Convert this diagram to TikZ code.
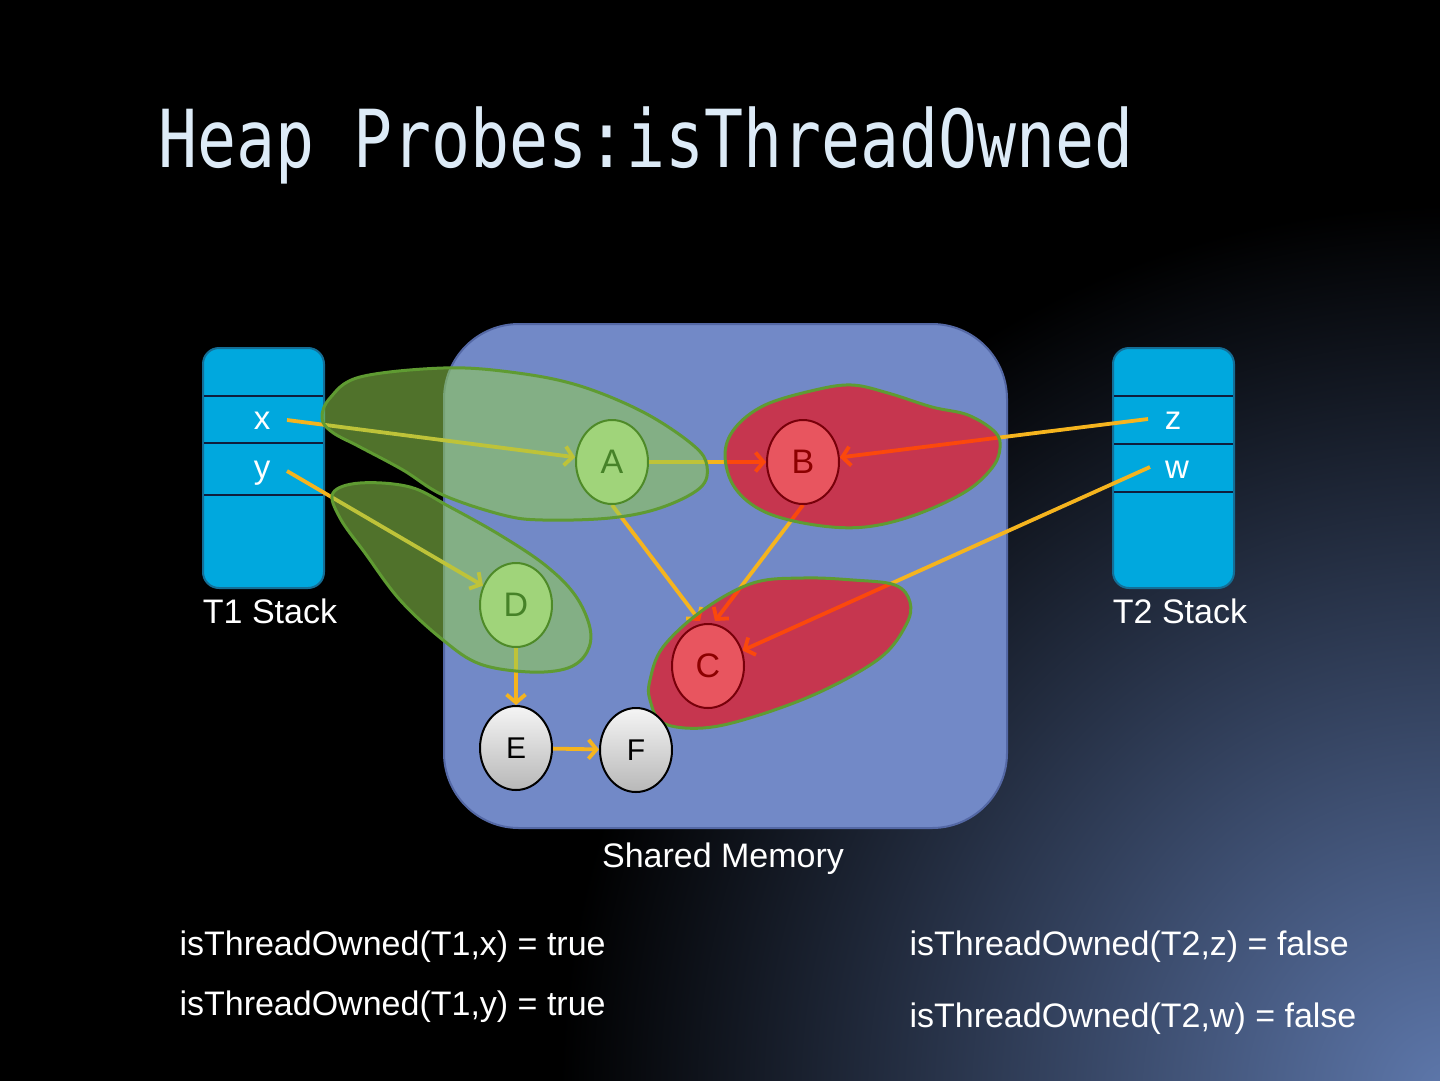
\documentclass[tikz,border=0pt]{standalone}
\usepackage{fontspec}
\setmainfont{Liberation Sans}
\newfontfamily\titlefont{DejaVu Sans Mono}
\usetikzlibrary{arrows.meta,shapes.geometric}
\definecolor{glowA}{RGB}{94,120,172}
\definecolor{titlecol}{RGB}{221,235,247}
\definecolor{memfill}{RGB}{114,137,199}
\definecolor{memdraw}{RGB}{84,104,165}
\definecolor{stackfill}{RGB}{0,168,222}
\definecolor{stackdraw}{RGB}{20,110,150}
\definecolor{cellline}{RGB}{15,30,60}
\definecolor{arrcol}{RGB}{245,180,30}
\definecolor{gblob}{RGB}{146,208,80}
\definecolor{blobline}{RGB}{95,155,50}
\definecolor{rblob}{RGB}{255,0,0}
\definecolor{gnodefill}{RGB}{160,212,122}
\definecolor{gnodedraw}{RGB}{78,138,40}
\definecolor{gnodetext}{RGB}{70,130,40}
\definecolor{rnodefill}{RGB}{232,85,95}
\definecolor{rnodedraw}{RGB}{120,0,10}
\definecolor{rnodetext}{RGB}{140,0,0}
\pgfdeclareradialshading{cornerglow}{\pgfpoint{0bp}{0bp}}{color(0bp)=(glowA); color(25bp)=(black); color(50bp)=(black)}
\pgfdeclarelayer{bg}
\pgfdeclarelayer{arrowlayer}
\pgfdeclarelayer{bloblayer}
\pgfsetlayers{bg,arrowlayer,bloblayer,main}
\begin{document}
\begin{tikzpicture}[x=1pt,y=-1pt,
  basenode/.style={ellipse, inner sep=0pt, minimum width=72pt, minimum height=84pt, line width=2pt},
  gnode/.style={basenode, fill=gnodefill, draw=gnodedraw, text=gnodetext, font=\fontsize{34}{34}\selectfont},
  rnode/.style={basenode, fill=rnodefill, draw=rnodedraw, text=rnodetext, font=\fontsize{34}{34}\selectfont},
  wnode/.style={basenode, top color=white!96!black, bottom color=white!72!black, draw=black, text=black, font=\fontsize{30}{30}\selectfont},
  arr/.style={draw=arrcol, line width=3.8pt, -{Straight Barb[length=8pt,width=19pt]}},
  greenblob/.style={fill=gblob, fill opacity=0.55, draw=blobline, line width=3pt},
  redblob/.style={fill=rblob, fill opacity=0.6, draw=blobline, line width=3pt},
  stackbox/.style={fill=stackfill, draw=stackdraw, line width=2pt, rounded corners=16pt},
  celltext/.style={text=white, font=\fontsize{33}{33}\selectfont},
  label/.style={text=white, font=\fontsize{34}{34}\selectfont},
  probe/.style={text=white, font=\fontsize{34}{34}\selectfont, anchor=base west}
]
\useasboundingbox (0,0) rectangle (1440,1080);
\begin{pgfonlayer}{bg}
  \fill[black] (-10,-10) rectangle (1450,1090);
  \begin{scope}
    \clip (-10,-10) rectangle (1450,1090);
    \shade[shading=cornerglow] (1450,1095) circle (890pt);
  \end{scope}
  % shared memory
  \draw[fill=memfill, draw=memdraw, line width=2pt, rounded corners=75pt] (444,324) rectangle (1007,828);
  % stacks
  \draw[stackbox] (203,348) rectangle (324,588);
  \draw[cellline, line width=2pt] (204,396) -- (323,396) (204,443) -- (323,443) (204,495) -- (323,495);
  \draw[stackbox] (1113,348) rectangle (1234,588);
  \draw[cellline, line width=2pt] (1114,396) -- (1233,396) (1114,444) -- (1233,444) (1114,492) -- (1233,492);
\end{pgfonlayer}

% title
\node[anchor=base west, text=titlecol, font=\titlefont\fontsize{80}{80}\selectfont, inner sep=0pt] (title) at (158,167) {\scalebox{0.81}[1]{Heap Probes:isThreadOwned}};

% stack texts
\node[celltext] (xl) at (262,421) {x};
\node[celltext] (yl) at (262,473) {y};
\node[celltext] (zl) at (1173,421) {z};
\node[celltext] (wl) at (1177,470) {w};
\node[label] (t1) at (270,611) {T1 Stack};
\node[label] (t2) at (1180,611) {T2 Stack};
\node[label] (sm) at (723,859) {Shared Memory};

\coordinate (xs) at (287,420);
\coordinate (ys) at (287,471);
\coordinate (zs) at (1148,419);
\coordinate (ws) at (1150,467);

% heap nodes
\node[gnode] (A) at (612,462) {A};
\node[rnode] (B) at (803,462) {B};
\node[rnode] (C) at (708,666) {C};
\node[gnode] (D) at (516,605) {D};
\node[wnode] (E) at (516,748) {E};
\node[wnode] (F) at (636,750) {F};

\begin{pgfonlayer}{arrowlayer}
  \draw[arr] (xs) -- (A);
  \draw[arr] (ys) -- (D);
  \draw[arr] (A) -- (B);
  \draw[arr] (A.south) -- ([xshift=-8pt,yshift=2pt]C.north);
  \draw[arr] (B.south) -- ([xshift=7pt,yshift=2pt]C.north);
  \draw[arr] (zs) -- (B);
  \draw[arr] (ws) -- (C);
  \draw[arr] (D) -- (E);
  \draw[arr] (E) -- (F);
\end{pgfonlayer}

\begin{pgfonlayer}{bloblayer}
  \draw[greenblob] plot[smooth cycle, tension=0.6] coordinates {(322,418) (330,398) (360,377) (443,368) (510,372) (577,385) (643,412) (693,445) (707,466) (700,488) (660,508) (610,518) (543,520) (503,515) (443,495) (403,470) (360,447) (332,432)};
  \draw[greenblob] plot[smooth cycle, tension=0.6] coordinates {(333,493) (360,483) (410,487) (450,507) (500,535) (545,565) (575,595) (590,628) (587,652) (568,668) (530,672) (480,664) (443,640) (400,600) (365,553) (340,518)};
  \draw[redblob] plot[smooth cycle, tension=0.6] coordinates {(725,455) (735,428) (765,405) (815,390) (852,385) (888,393) (932,407) (968,415) (995,432) (1000,448) (992,468) (965,492) (915,515) (865,527) (815,525) (765,512) (735,488)};
  \draw[redblob] plot[smooth cycle, tension=0.6] coordinates {(650,680) (663,647) (703,610) (753,583) (803,578) (853,580) (895,585) (910,602) (906,625) (880,658) (820,692) (753,717) (703,728) (663,723) (650,700)};
\end{pgfonlayer}

% probe results
\node[probe] (p1) at (176,955) {isThreadOwned(T1,x) = true};
\node[probe] (p2) at (176,1015) {isThreadOwned(T1,y) = true};
\node[probe] (p3) at (906,955) {isThreadOwned(T2,z) = false};
\node[probe] (p4) at (906,1027) {isThreadOwned(T2,w) = false};
\end{tikzpicture}
\end{document}
